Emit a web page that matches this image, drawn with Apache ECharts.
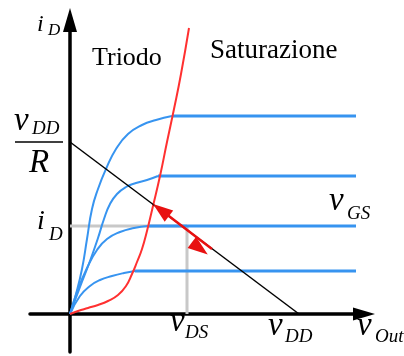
<!DOCTYPE html>
<html>
<head>
<meta charset="utf-8">
<script src="https://cdn.jsdelivr.net/npm/echarts@6/dist/echarts.min.js"></script>
<style>
  html, body { margin: 0; padding: 0; background: #fff; }
  #chart { width: 404px; height: 356px; }
</style>
</head>
<body>
<div id="chart"></div>
<script>
// MOSFET output characteristics i_D(v_DS) with a resistive load line.

// Saturation current for each gate voltage step
const gateLevels = [198, 138, 88, 43];

// Triode-region branch of each characteristic, from the origin to the knee
const triodeCurves = [
  [[0, 0], [6, 20], [12, 45], [17, 75], [22, 105], [28, 125], [36, 145], [46, 165], [58, 180], [72, 189], [86, 194], [102, 198]],
  [[0, 0], [10, 27], [20, 53], [28, 76], [34, 95], [40, 110], [47, 120], [56, 127], [66, 131], [77, 134], [88, 138]],
  [[0, 0], [7, 22], [17, 46], [27, 64], [37, 75], [50, 82], [64, 86], [78, 88]],
  [[0, 0], [10, 18], [20, 28], [30, 34], [42, 38], [54, 41], [65, 43]]
];

// Boundary between triode and saturation (v_DS = v_GS - V_T)
const saturationEdge = [[0, 0], [8, 3], [18, 6], [28, 9], [38, 13], [48, 19], [56, 28], [62, 40], [67, 52], [72, 65], [77, 83], [83, 108], [90, 138], [97, 172], [104, 205], [111, 240], [119, 286]];

// Supply voltage and short-circuit current v_DD / R
const vDD = 229;
const iShort = 172;
const vMax = 286;

// Quiescent point and signal swing along the load line
const opPoint = [117, 88];
const swing = [[91, 104], [142, 65]];

const SERIF = 'Liberation Serif';
const BLUE = '#3794f0';
const RED = '#ff3030';

const chart = echarts.init(document.getElementById('chart'), null, { renderer: 'canvas' });

const series = [];

// guide lines to the operating point
series.push({
  type: 'line', data: [[0, opPoint[1]], [opPoint[0], opPoint[1]]],
  lineStyle: { color: '#c8c8c8', width: 3 }, symbol: 'none', silent: true
});
series.push({
  type: 'line', data: [[opPoint[0], 0], [opPoint[0], opPoint[1]]],
  lineStyle: { color: '#c8c8c8', width: 3 }, symbol: 'none', silent: true
});

triodeCurves.forEach(function (curve, i) {
  series.push({
    type: 'line', data: curve, smooth: 0.5,
    lineStyle: { color: BLUE, width: 2 }, symbol: 'none', silent: true
  });
  const knee = curve[curve.length - 1];
  series.push({
    type: 'line', data: [[knee[0], gateLevels[i]], [vMax, gateLevels[i]]],
    lineStyle: { color: BLUE, width: 3 }, symbol: 'none', silent: true
  });
});

series.push({
  type: 'line', data: saturationEdge, smooth: 0.5,
  lineStyle: { color: RED, width: 2 }, symbol: 'none', silent: true
});

series.push({
  type: 'line', data: [[0, iShort], [vDD, 0]],
  lineStyle: { color: '#000', width: 1.5 }, symbol: 'none', silent: true,
  markLine: {
    silent: true, animation: false,
    symbol: ['triangle', 'triangle'],
    symbolSize: [14, 20],
    symbolOffset: [0, '50%'],
    label: { show: false },
    lineStyle: { color: '#e81010', width: 2.5, type: 'solid' },
    data: [[{ coord: swing[0] }, { coord: swing[1] }]]
  }
});

const axisCommon = {
  type: 'value',
  splitLine: { show: false },
  axisTick: { show: false },
  axisLabel: { show: false },
};

chart.setOption({
  animation: false,
  backgroundColor: '#fff',
  grid: { left: 30, top: 20, width: 334, height: 332 },
  xAxis: Object.assign({}, axisCommon, {
    min: -40, max: 294,
    axisLine: { show: true, onZero: true, symbol: ['none', 'triangle'], symbolSize: [13, 22],
      lineStyle: { color: '#000', width: 3.5 } }
  }),
  yAxis: Object.assign({}, axisCommon, {
    min: -38, max: 294,
    axisLine: { show: true, onZero: true, symbol: ['none', 'triangle'], symbolSize: [14, 24],
      lineStyle: { color: '#000', width: 3.5 } }
  }),
  series: series
});

function txt(x, y, text, size, italic) {
  return {
    type: 'text', x: x, y: y, silent: true, z: 100,
    style: {
      text: text, fill: '#000',
      fontFamily: SERIF, fontSize: size, fontStyle: italic ? 'italic' : 'normal',
      align: 'left', verticalAlign: 'middle',
      textAlign: 'left', textVerticalAlign: 'middle'
    }
  };
}

const MAIN = 33, SUB = 19;
const pShort = chart.convertToPixel({ gridIndex: 0 }, [0, iShort]);
const pOp = chart.convertToPixel({ gridIndex: 0 }, opPoint);
const pDD = chart.convertToPixel({ gridIndex: 0 }, [vDD, 0]);

const graphics = [
  // axis titles
  txt(37, 25, 'i', 24, true), txt(48, 31, 'D', 17, true),
  txt(357, pDD[1] + 12, 'v', MAIN, true), txt(375, pDD[1] + 23, 'Out', SUB, true),
  // v_DD / R on the current axis
  txt(14, pShort[1] - 21, 'v', MAIN, true), txt(32, pShort[1] - 13, 'DD', SUB, true),
  { type: 'line', silent: true, z: 100, shape: { x1: 15, y1: pShort[1], x2: 63, y2: pShort[1] },
    style: { stroke: '#000', lineWidth: 1.5 } },
  txt(29, pShort[1] + 21, 'R', MAIN, true),
  // quiescent current
  txt(37, pOp[1] - 4.5, 'i', 28, true), txt(49, pOp[1] + 9, 'D', SUB, true),
  // quiescent voltage and supply
  txt(pOp[0] - 17, pDD[1] + 8, 'v', MAIN, true), txt(pOp[0] - 2, pDD[1] + 19, 'DS', SUB, true),
  txt(pDD[0] - 31, pDD[1] + 12, 'v', MAIN, true), txt(pDD[0] - 14, pDD[1] + 23, 'DD', SUB, true),
  // gate voltage parameter
  txt(329, 201, 'v', MAIN, true), txt(347, 214, 'GS', SUB, true),
  // region names
  txt(92, 58, 'Triodo', 26, false),
  txt(210, 51, 'Saturazione', 27, false)
];

chart.setOption({ graphic: { elements: graphics } });
</script>
</body>
</html>
